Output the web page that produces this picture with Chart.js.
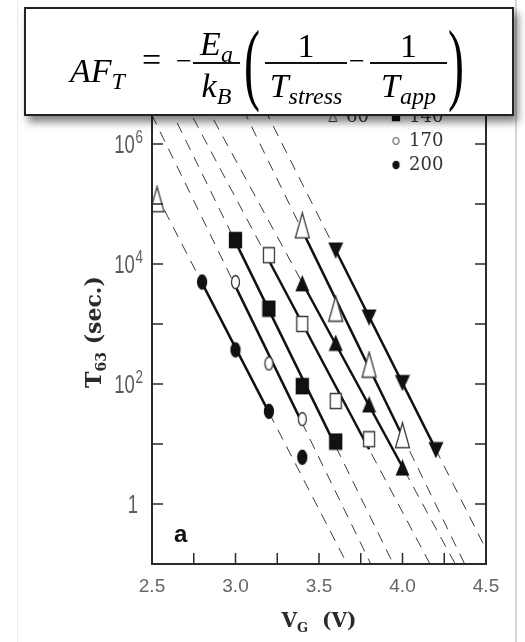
<!DOCTYPE html>
<html>
<head>
<meta charset="utf-8">
<script src="https://cdn.jsdelivr.net/npm/chart.js@4.4.1/dist/chart.umd.min.js"></script>
<style>
  body { margin: 0; background: #fff; }
  #wrap { position: relative; width: 525px; height: 642px; overflow: hidden; }
  #page { position: absolute; left: 17px; top: 0; width: 497px; height: 642px;
          border-left: 1px solid #ececec; border-right: 2px solid #d6d6d6; }
  canvas { position: absolute; left: 0; top: 0; }
  #eqbox { position: absolute; left: 24px; top: 7px; width: 486px; height: 105px;
           border: 2px solid #222; background: #fff; box-shadow: 4px 6px 8px rgba(0,0,0,0.5); }
  .eq { position: absolute; font-family: 'Liberation Serif', serif; font-size: 34px;
        line-height: 1; color: #000; white-space: nowrap; }
  .it { font-style: italic; }
  .sub { font-size: 24px; font-style: italic; vertical-align: -7px; }
  .bar { position: absolute; height: 2px; background: #111; }
  .ctr { text-align: center; }
  .paren { font-size: 48px; transform: scale(1, 1.9); transform-origin: left top; }
</style>
</head>
<body>
<div id="wrap">
  <div id="page"></div>
  <canvas id="chart" width="525" height="642"></canvas>
  <div id="eqbox"></div>
  <span class="eq it" style="left:70px; top:54px;">AF<span class="sub">T</span></span>
  <span class="eq" style="left:142px; top:43px;">=</span>
  <span class="eq" style="left:176px; top:46.5px; font-size:28px;">&minus;</span>
  <span class="eq it ctr" style="left:193px; width:47px; top:26.5px;">E<span class="sub">a</span></span>
  <div class="bar" style="left:193px; top:62px; width:47px;"></div>
  <span class="eq it ctr" style="left:193px; width:47px; top:68.5px;">k<span class="sub">B</span></span>
  <span class="eq paren" style="left:244px; top:16.5px;">(</span>
  <span class="eq ctr" style="left:265px; width:82px; top:28.5px;">1</span>
  <div class="bar" style="left:265px; top:62px; width:82px;"></div>
  <span class="eq it ctr" style="left:265px; width:82px; top:68.5px;">T<span class="sub">stress</span></span>
  <span class="eq" style="left:349px; top:46.5px; font-size:28px;">&minus;</span>
  <span class="eq ctr" style="left:370px; width:77px; top:28.5px;">1</span>
  <div class="bar" style="left:370px; top:62px; width:77px;"></div>
  <span class="eq it ctr" style="left:370px; width:77px; top:68.5px;">T<span class="sub">app</span></span>
  <span class="eq paren" style="left:448px; top:16.5px;">)</span>
</div>
<script>
// axis ticks
const xTicks = [2.5, 2.75, 3.0, 3.25, 3.5, 3.75, 4.0, 4.25, 4.5];
const xTickText = ['2.5', '', '3.0', '', '3.5', '', '4.0', '', '4.5'];
const yTicks = [1, 10, 1e2, 1e3, 1e4, 1e5, 1e6, 1e7];
const yTickBase = ['1', '', '10', '', '10', '', '10', ''];
const yTickExp = ['', '', '2', '', '4', '', '6', ''];

// gate voltage V_G (V) and T63 (s), one pair per stress temperature
const vT30 = [3.6, 3.8, 4.0, 4.2];
const tT30 = [17000, 1300, 105, 8];
const vT60 = [2.53, 3.4, 3.6, 3.8, 4.0];
const tT60 = [120000, 44000, 1800, 210, 14];
const vT85 = [3.4, 3.6, 3.8, 4.0];
const tT85 = [4700, 480, 45, 4];
const vT110 = [3.2, 3.4, 3.6, 3.8];
const tT110 = [14000, 1000, 52, 12];
const vT140 = [3.0, 3.2, 3.4, 3.6];
const tT140 = [25000, 1800, 92, 11];
const vT170 = [3.0, 3.2, 3.4];
const tT170 = [5000, 220, 26];
const vT200 = [2.8, 3.0, 3.2, 3.4];
const tT200 = [5000, 370, 35, 6];

// first / last point index that the solid fit line goes through
const fitT30 = [0, 3];
const fitT60 = [1, 4];
const fitT85 = [0, 3];
const fitT110 = [0, 3];
const fitT140 = [0, 3];
const fitT170 = [0, 2];
const fitT200 = [0, 2];

function marker(kind, filled, w, h, lw) {
  const c = document.createElement('canvas');
  c.width = w + 3; c.height = h + 3;
  const g = c.getContext('2d');
  const x0 = 1.5, y0 = 1.5;
  g.beginPath();
  if (kind === 'ellipse') g.ellipse(x0 + w / 2, y0 + h / 2, w / 2, h / 2, 0, 0, Math.PI * 2);
  else if (kind === 'square') g.rect(x0, y0, w, h);
  else if (kind === 'up') { g.moveTo(x0 + w / 2, y0); g.lineTo(x0 + w, y0 + h); g.lineTo(x0, y0 + h); g.closePath(); }
  else { g.moveTo(x0, y0); g.lineTo(x0 + w, y0); g.lineTo(x0 + w / 2, y0 + h); g.closePath(); }
  g.fillStyle = filled ? '#111' : '#fff';
  g.fill();
  g.lineWidth = lw || 1.3;
  g.strokeStyle = filled ? '#111' : '#3a3a3a';
  g.stroke();
  return c;
}

const series = [
  { label: '30', v: vT30, t: tT30, fit: fitT30, pt: marker('down', true, 13, 14), key: marker('down', true, 8, 8), col: 0, row: 0 },
  { label: '85', v: vT85, t: tT85, fit: fitT85, pt: marker('up', true, 12, 14), key: marker('up', true, 8, 8), col: 0, row: 1 },
  { label: '60', v: vT60, t: tT60, fit: fitT60, pt: marker('up', false, 14, 25), key: marker('up', false, 8, 9, 1), col: 0, row: 2 },
  { label: '110', v: vT110, t: tT110, fit: fitT110, pt: marker('square', false, 11, 15), key: marker('square', false, 7, 7, 1), col: 1, row: 1 },
  { label: '140', v: vT140, t: tT140, fit: fitT140, pt: marker('square', true, 12, 15), key: marker('square', true, 7, 7), col: 1, row: 2 },
  { label: '170', v: vT170, t: tT170, fit: fitT170, pt: marker('ellipse', false, 8, 13), key: marker('ellipse', false, 6, 7, 1), col: 1, row: 3 },
  { label: '200', v: vT200, t: tT200, fit: fitT200, pt: marker('ellipse', true, 9, 14), key: marker('ellipse', true, 6, 7), col: 1, row: 4 }
];

// least squares fit of log10(T) against V
function fitLine(v, t, range) {
  const xs = v.slice(range[0], range[1] + 1);
  const ys = t.slice(range[0], range[1] + 1).map(Math.log10);
  const mx = xs.reduce((a, b) => a + b, 0) / xs.length;
  const my = ys.reduce((a, b) => a + b, 0) / ys.length;
  let sxy = 0, sxx = 0;
  xs.forEach((x, i) => { sxy += (x - mx) * (ys[i] - my); sxx += (x - mx) * (x - mx); });
  const k = sxy / sxx;
  return x => Math.pow(10, my + k * (x - mx));
}

const datasets = [];
series.forEach(s => {
  const f = fitLine(s.v, s.t, s.fit);
  const a = s.v[s.fit[0]], b = s.v[s.fit[1]];
  datasets.push({
    label: s.label,
    data: s.v.map((v, i) => ({ x: v, y: s.t[i] })),
    pointStyle: s.pt, pointRadius: 8, pointHoverRadius: 8,
    showLine: false, order: 0
  });
  datasets.push({
    data: [{ x: a, y: f(a) }, { x: b, y: f(b) }],
    showLine: true, borderColor: '#111', borderWidth: 2.5, pointRadius: 0, order: 1
  });
  datasets.push({
    data: [{ x: 2.0, y: f(2.0) }, { x: 5.0, y: f(5.0) }],
    showLine: true, borderColor: '#3a3a3a', borderWidth: 1, borderDash: [11, 8],
    pointRadius: 0, order: 2
  });
});

const framePlugin = {
  id: 'frame',
  afterDraw(chart) {
    const { ctx, chartArea: a, scales: { x, y } } = chart;
    ctx.save();
    // frame and inward ticks
    ctx.strokeStyle = '#2a2a2a';
    ctx.lineWidth = 2;
    ctx.strokeRect(a.left, a.top, a.right - a.left, a.bottom - a.top);
    ctx.lineWidth = 1.5;
    ctx.beginPath();
    xTicks.forEach(v => {
      const px = x.getPixelForValue(v);
      ctx.moveTo(px, a.bottom); ctx.lineTo(px, a.bottom - 11);
      ctx.moveTo(px, a.top); ctx.lineTo(px, a.top + 11);
    });
    yTicks.forEach(v => {
      const py = y.getPixelForValue(v);
      ctx.moveTo(a.left, py); ctx.lineTo(a.left + 11, py);
      ctx.moveTo(a.right, py); ctx.lineTo(a.right - 11, py);
    });
    ctx.stroke();

    // y tick labels (condensed) with raised exponent
    ctx.fillStyle = '#5c5c5c';
    ctx.textBaseline = 'middle';
    ctx.textAlign = 'right';
    yTicks.forEach((v, i) => {
      if (!yTickBase[i]) return;
      const py = y.getPixelForValue(v);
      ctx.save();
      ctx.translate(a.left - (yTickExp[i] ? 9 : 14), py);
      ctx.scale(0.74, 1);
      let we = 0;
      if (yTickExp[i]) {
        ctx.font = '18px "Liberation Sans"';
        ctx.fillText(yTickExp[i], 0, -6);
        we = ctx.measureText(yTickExp[i]).width + 1;
      }
      ctx.font = '25px "Liberation Sans"';
      ctx.fillText(yTickBase[i], -we, 2);
      ctx.restore();
    });
    ctx.textAlign = 'left';

    // legend
    ctx.fillStyle = '#333';
    ctx.font = '18px "DejaVu Serif"';
    const colX = [a.right - 153, a.right - 90];
    series.forEach(s => {
      const cx = colX[s.col], cy = a.top - 15 + 24 * s.row;
      ctx.drawImage(s.key, cx - s.key.width / 2, cy - s.key.height / 2);
      ctx.fillText(s.label, cx + 13, cy);
    });

    // panel letter
    ctx.fillStyle = '#111';
    ctx.font = 'bold 24px "Liberation Sans"';
    ctx.textBaseline = 'alphabetic';
    ctx.fillText('a', a.left + 22, a.bottom - 22);

    // x title V_G (V)
    ctx.fillStyle = '#2a2a2a';
    const big = 'bold 20px "DejaVu Serif"', small = 'bold 13px "DejaVu Serif"';
    ctx.font = big; const wV = ctx.measureText('V').width; const wU = ctx.measureText('  (V)').width;
    ctx.font = small; const wG = ctx.measureText('G').width;
    let tx = (a.left + a.right) / 2 - (wV + wG + wU) / 2;
    ctx.font = big; ctx.fillText('V', tx, 627);
    ctx.font = small; ctx.fillText('G', tx + wV, 632);
    ctx.font = big; ctx.fillText('  (V)', tx + wV + wG, 627);

    // y title T63 (sec.)
    ctx.translate(101, 332);
    ctx.rotate(-Math.PI / 2);
    const tb = 'bold 22px "DejaVu Serif"', ts = 'bold 14px "DejaVu Serif"';
    ctx.font = tb; const wT = ctx.measureText('T').width; const wS = ctx.measureText(' (sec.)').width;
    ctx.font = ts; const w6 = ctx.measureText('63').width;
    tx = -(wT + w6 + wS) / 2;
    ctx.font = tb; ctx.fillText('T', tx, 0);
    ctx.font = ts; ctx.fillText('63', tx + wT, 5);
    ctx.font = tb; ctx.fillText(' (sec.)', tx + wT + w6, 0);
    ctx.restore();
  }
};

new Chart(document.getElementById('chart'), {
  type: 'scatter',
  data: { datasets },
  options: {
    responsive: false,
    animation: false,
    layout: { padding: { left: 100, right: 39, top: 84, bottom: 38 } },
    plugins: { legend: { display: false }, tooltip: { enabled: false } },
    scales: {
      x: {
        type: 'linear', min: 2.5, max: 4.5,
        afterFit: s => { s.height = 40; },
        afterBuildTicks: s => { s.ticks = xTicks.map(value => ({ value })); },
        grid: { display: false, drawTicks: false },
        border: { display: false },
        ticks: {
          callback: (v, i) => xTickText[i], padding: 11, autoSkip: false, maxRotation: 0,
          color: '#666', font: { family: 'Liberation Sans', size: 19 }
        }
      },
      y: {
        type: 'logarithmic', min: 0.1, max: 1e7,
        afterFit: s => { s.width = 52; },
        afterBuildTicks: s => { s.ticks = yTicks.map(value => ({ value })); },
        grid: { display: false, drawTicks: false },
        border: { display: false },
        ticks: { display: false }
      }
    }
  },
  plugins: [framePlugin]
});
</script>
</body>
</html>
